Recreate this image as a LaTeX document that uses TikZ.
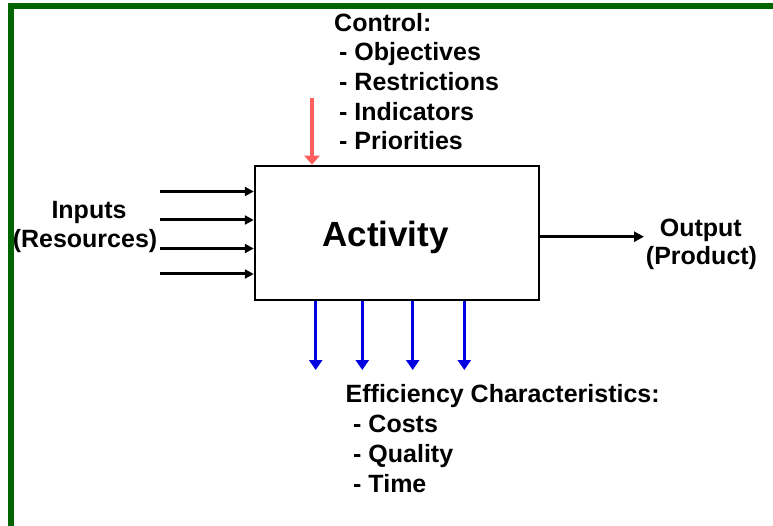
\documentclass[tikz,border=0pt]{standalone}
\usepackage{fontspec}
\setmainfont{Liberation Sans}
\usetikzlibrary{arrows.meta}
\definecolor{frame}{RGB}{0,100,0}
\definecolor{ctrl}{RGB}{255,95,95}
\definecolor{eff}{RGB}{0,0,225}
\tikzset{
  txt/.style={inner sep=0pt, font=\fontsize{25}{30}\selectfont\bfseries},
  inarrow/.style={line width=3pt, -{Triangle[length=9pt,width=9pt]}},
  ctrlarrow/.style={draw=ctrl, line width=4.5pt, -{Triangle[length=9pt,width=15pt]}},
  effarrow/.style={draw=eff, line width=3.5pt, -{Triangle[length=10pt,width=13pt]}},
  outarrow/.style={line width=3pt, -{Triangle[length=10pt,width=10pt]}},
}
\begin{document}
\begin{tikzpicture}[x=1pt,y=-1pt]
\useasboundingbox (0,0) rectangle (773,526);
% frame
\draw[frame, line width=5.5pt, line join=miter] (10.8,530) -- (10.8,6) -- (778,6);
% activity box
\node[draw, line width=2.5pt, minimum width=284pt, minimum height=134pt, inner sep=0pt] (act) at (397,233) {};
\node[inner sep=0pt, anchor=base, font=\fontsize{35}{42}\selectfont\bfseries] (acttxt) at (385.5,246.5) {Activity};
% inputs
\coordinate (i1) at (160,191.5);
\coordinate (i2) at (160,220);
\coordinate (i3) at (160,248.5);
\coordinate (i4) at (160,274);
\foreach \c in {i1,i2,i3,i4} \draw[inarrow] (\c) -- (\c -| act.west);
\node[txt, anchor=base] (inp1) at (89,218.5) {Inputs};
\node[txt, anchor=base] (inp2) at (85,247.5) {(Resources)};
% control
\coordinate (c0) at (312,98);
\draw[ctrlarrow] (c0) -- (c0 |- act.north);
\node[txt, anchor=base west] (ct0) at (334,31.3) {Control:};
\node[txt, anchor=base west] (ct1) at (339,61) {- Objectives};
\node[txt, anchor=base west] (ct2) at (339,90.7) {- Restrictions};
\node[txt, anchor=base west] (ct3) at (339,120.3) {- Indicators};
\node[txt, anchor=base west] (ct4) at (339,150) {- Priorities};
% efficiency
\coordinate (e1) at (315.7,370);
\coordinate (e2) at (362.3,370);
\coordinate (e3) at (412.7,370);
\coordinate (e4) at (464.3,370);
\foreach \c in {e1,e2,e3,e4} \draw[effarrow] (\c |- act.south) -- (\c);
\node[txt, anchor=base west] (ef0) at (345.5,402) {Efficiency Characteristics:};
\node[txt, anchor=base west] (ef1) at (353,432) {- Costs};
\node[txt, anchor=base west] (ef2) at (353,462) {- Quality};
\node[txt, anchor=base west] (ef3) at (353,492.5) {- Time};
% output
\coordinate (o1) at (644,236.7);
\draw[outarrow] (act.east |- o1) -- (o1);
\node[txt, anchor=base] (out1) at (700.8,236.5) {Output};
\node[txt, anchor=base] (out2) at (701.5,265) {(Product)};
\end{tikzpicture}
\end{document}
